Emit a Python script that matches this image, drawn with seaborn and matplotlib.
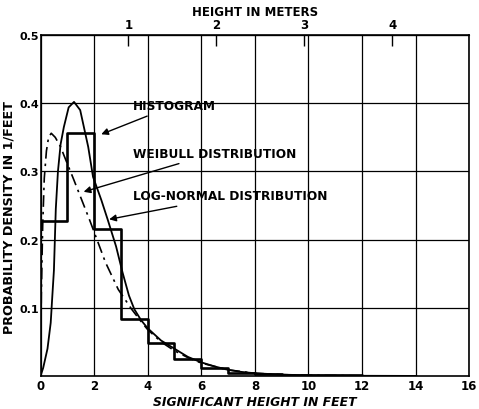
import numpy as np
import pandas as pd
import matplotlib
matplotlib.use("Agg")
import matplotlib.pyplot as plt
import seaborn as sns

# ---- data ----
bin_edges = [0, 1, 2, 3, 4, 5, 6, 7, 8, 9, 10, 11, 12, 13, 14]
hist_density = [0.228, 0.357, 0.216, 0.084, 0.049, 0.025, 0.011, 0.005,
                0.003, 0.002, 0.001, 0.001, 0.0005, 0.0005]

lognorm_x = [0.0, 0.1, 0.26, 0.38, 0.44, 0.5, 0.57, 0.65, 0.75, 0.87, 1.05,
             1.25, 1.48, 1.78, 1.96, 2.27, 2.51, 2.82, 3.06, 3.3, 3.5, 3.75,
             4.0, 4.5, 5.0, 5.5, 6.0, 6.5, 7.0, 7.5, 8.0, 9.0, 10.0, 12.0, 14.0]
lognorm_y = [0.0, 0.012, 0.04, 0.078, 0.117, 0.155, 0.245, 0.30, 0.34, 0.365,
             0.394, 0.402, 0.39, 0.336, 0.292, 0.258, 0.229, 0.19, 0.152,
             0.118, 0.098, 0.082, 0.07, 0.052, 0.04, 0.028, 0.02, 0.014,
             0.009, 0.006, 0.004, 0.002, 0.001, 0.0003, 0.0001]

weibull_x = [0.0, 0.03, 0.08, 0.14, 0.22, 0.3, 0.4, 0.55, 0.75, 0.87, 1.24,
             1.54, 1.84, 2.06, 2.42, 2.9, 3.4, 3.75, 4.0, 4.5, 5.0, 5.5, 6.0,
             7.0, 8.0, 9.0, 10.0, 12.0, 14.0]
weibull_y = [0.0, 0.12, 0.22, 0.29, 0.33, 0.35, 0.356, 0.35, 0.336, 0.324,
             0.288, 0.258, 0.228, 0.205, 0.167, 0.127, 0.098, 0.08, 0.068,
             0.05, 0.037, 0.027, 0.019, 0.009, 0.004, 0.002, 0.001, 0.0002, 0.0]

x_ticks = [0, 2, 4, 6, 8, 10, 12, 14, 16]
y_ticks = [0.1, 0.2, 0.3, 0.4, 0.5]
meter_ticks = [1, 2, 3, 4]
FT_PER_M = 3.2808

sns.set_style("white")
plt.rcParams["font.family"] = ["DejaVu Sans"]
plt.rcParams["font.weight"] = "bold"
plt.rcParams["text.color"] = "black"
plt.rcParams["axes.labelcolor"] = "black"
plt.rcParams["xtick.color"] = "black"
plt.rcParams["ytick.color"] = "black"

fig = plt.figure(figsize=(4.79, 4.10), dpi=100)
ax = fig.add_axes([0.0846, 0.0805, 0.895, 0.8315])

centers = [(a + b) / 2 for a, b in zip(bin_edges[:-1], bin_edges[1:])]
sns.histplot(x=centers, weights=hist_density, bins=bin_edges, element="step",
             fill=False, stat="count", color="black", linewidth=1.9, ax=ax)

sns.lineplot(x=lognorm_x, y=lognorm_y, color="black", linewidth=1.3,
             sort=False, ax=ax)
sns.lineplot(x=weibull_x, y=weibull_y, color="black", linewidth=1.2,
             sort=False, dashes=False, ax=ax)
ax.lines[-1].set_dashes([7, 3, 1.5, 3])

ax.set_xlim(0, 16)
ax.set_ylim(0, 0.5)
ax.set_xticks(x_ticks)
ax.set_yticks(y_ticks)
ax.set_xticklabels([str(t) for t in x_ticks], fontsize=8.5, fontweight="bold")
ax.set_yticklabels([f"{t:.1f}" for t in y_ticks], fontsize=8, fontweight="bold")
ax.tick_params(axis="x", length=0, pad=2)
ax.tick_params(axis="y", length=0, pad=1)
ax.grid(True, color="black", linewidth=0.9)
ax.set_axisbelow(True)
for s in ax.spines.values():
    s.set_color("black")
    s.set_linewidth(1.2)

ax.set_xlabel("SIGNIFICANT HEIGHT IN FEET", fontsize=8.9, fontweight="bold",
              fontstyle="italic", labelpad=2)
ax.set_ylabel("PROBABILITY DENSITY IN 1/FEET", fontsize=9.2, fontweight="bold",
              labelpad=2)
ax.yaxis.set_label_coords(-0.058, 0.469)

sec = ax.secondary_xaxis("top", functions=(lambda f: f / FT_PER_M,
                                           lambda m: m * FT_PER_M))
sec.set_xticks(meter_ticks)
sec.set_xticklabels([str(t) for t in meter_ticks], fontsize=8.5, fontweight="bold")
sec.tick_params(direction="in", length=8, width=1.0, pad=3, colors="black")
sec.set_xlabel("HEIGHT IN METERS", fontsize=8.5, fontweight="bold", labelpad=2)

arrow = dict(arrowstyle="-|>", color="black", lw=1.0, mutation_scale=10)
ax.annotate("HISTOGRAM", xy=(2.17, 0.353), xytext=(3.45, 0.397),
            fontsize=8.7, fontweight="bold", va="center", ha="left",
            arrowprops=arrow)
ax.annotate("WEIBULL DISTRIBUTION", xy=(1.51, 0.269), xytext=(3.45, 0.327),
            fontsize=8.7, fontweight="bold", va="center", ha="left",
            arrowprops=arrow)
ax.annotate("LOG-NORMAL DISTRIBUTION", xy=(2.46, 0.229), xytext=(3.45, 0.264),
            fontsize=8.7, fontweight="bold", va="center", ha="left",
            arrowprops=arrow)

fig.savefig("out.png", dpi=100)
